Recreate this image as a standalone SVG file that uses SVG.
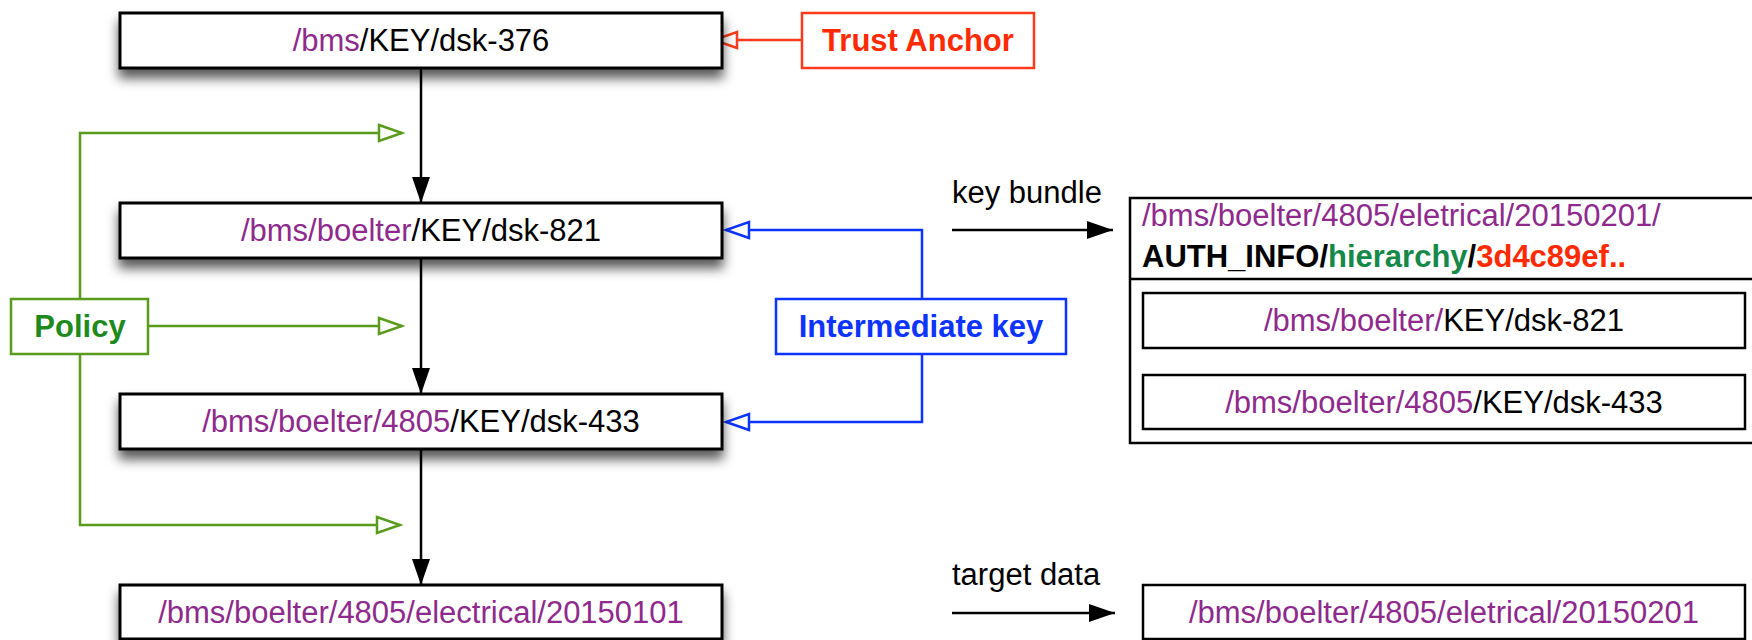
<svg xmlns="http://www.w3.org/2000/svg" width="1752" height="640" viewBox="0 0 1752 640">
  <style>
    text { font-family: "Liberation Sans", Arial, Helvetica, sans-serif; font-size: 31px; }
    .b { font-weight: bold; font-size: 31px; }
    .mid { text-anchor: middle; }
    .p { fill: #8e2a8c; }
    .k { fill: #000; }
    .box { fill: #fff; stroke: #000; stroke-width: 3; }
    .rbox { fill: #fff; stroke: #000; stroke-width: 2.5; }
    .chain { stroke: #000; stroke-width: 2.5; fill: none; }
    .pol { stroke: #5a9a1c; stroke-width: 2.5; fill: none; }
    .ik { stroke: #0d33ff; stroke-width: 2.5; fill: none; }
    .ta { stroke: #ff3a1a; stroke-width: 2.5; fill: none; }
  </style>
  <defs>
    <filter id="shadow" x="-5%" y="-30%" width="110%" height="190%">
      <feDropShadow dx="0" dy="9" stdDeviation="6" flood-color="#000" flood-opacity="0.65"/>
    </filter>
    <marker id="solid" viewBox="0 0 26 18" refX="26" refY="9" markerWidth="26" markerHeight="18" markerUnits="userSpaceOnUse" orient="auto">
      <path d="M0,0 L26,9 L0,18 Z" fill="#000"/>
    </marker>
    <marker id="openG" viewBox="-2 -2 28 22" refX="23" refY="9" markerWidth="28" markerHeight="22" markerUnits="userSpaceOnUse" orient="auto">
      <path d="M0,1 L23,9 L0,17 Z" fill="#fff" stroke="#5a9a1c" stroke-width="2.5"/>
    </marker>
    <marker id="openB" viewBox="-2 -2 28 22" refX="23" refY="9" markerWidth="28" markerHeight="22" markerUnits="userSpaceOnUse" orient="auto">
      <path d="M0,1 L23,9 L0,17 Z" fill="#fff" stroke="#0d33ff" stroke-width="2.5"/>
    </marker>
    <marker id="openR" viewBox="-2 -2 28 22" refX="23" refY="9" markerWidth="28" markerHeight="22" markerUnits="userSpaceOnUse" orient="auto">
      <path d="M0,1 L23,9 L0,17 Z" fill="#fff" stroke="#ff3a1a" stroke-width="2.5"/>
    </marker>
  </defs>

  <!-- connectors -->
  <g id="connectors">
    <!-- key chain -->
    <line class="chain" x1="421" y1="68" x2="421" y2="203" marker-end="url(#solid)"/>
    <line class="chain" x1="421" y1="258" x2="421" y2="394" marker-end="url(#solid)"/>
    <line class="chain" x1="421" y1="449" x2="421" y2="585" marker-end="url(#solid)"/>
    <!-- policy -->
    <polyline class="pol" points="80,299 80,133 402,133" marker-end="url(#openG)"/>
    <line class="pol" x1="148" y1="326" x2="402" y2="326" marker-end="url(#openG)"/>
    <polyline class="pol" points="80,354 80,525 400,525" marker-end="url(#openG)"/>
    <!-- intermediate key -->
    <polyline class="ik" points="922,299 922,230 726,230" marker-end="url(#openB)"/>
    <polyline class="ik" points="922,354 922,422 726,422" marker-end="url(#openB)"/>
    <!-- trust anchor -->
    <line class="ta" x1="802" y1="40" x2="714" y2="40" marker-end="url(#openR)"/>
    <!-- bundle / data -->
    <line class="chain" x1="952" y1="230" x2="1113" y2="230" marker-end="url(#solid)"/>
    <line class="chain" x1="952" y1="613" x2="1115" y2="613" marker-end="url(#solid)"/>
  </g>

  <!-- key chain nodes -->
  <g id="dsk-376">
    <rect class="box" x="120" y="13" width="602" height="55" filter="url(#shadow)"/>
    <text class="mid" x="421" y="51"><tspan class="p">/bms</tspan><tspan class="k">/KEY/dsk-376</tspan></text>
  </g>
  <g id="dsk-821">
    <rect class="box" x="120" y="203" width="602" height="55" filter="url(#shadow)"/>
    <text class="mid" x="421" y="241"><tspan class="p">/bms/boelter</tspan><tspan class="k">/KEY/dsk-821</tspan></text>
  </g>
  <g id="dsk-433">
    <rect class="box" x="120" y="394" width="602" height="55" filter="url(#shadow)"/>
    <text class="mid" x="421" y="432"><tspan class="p">/bms/boelter/4805</tspan><tspan class="k">/KEY/dsk-433</tspan></text>
  </g>
  <g id="data-20150101">
    <rect class="box" x="120" y="585" width="602" height="54" filter="url(#shadow)"/>
    <text class="mid p" x="421" y="623">/bms/boelter/4805/electrical/20150101</text>
  </g>

  <!-- annotations -->
  <g id="trust-anchor">
    <rect x="802" y="13" width="232" height="55" fill="#fff" stroke="#ff3a1a" stroke-width="2.5"/>
    <text class="b mid" x="918" y="51" fill="#ff2a00">Trust Anchor</text>
  </g>
  <g id="policy">
    <rect x="11" y="299" width="137" height="55" fill="#fff" stroke="#5a9a1c" stroke-width="2.5"/>
    <text class="b mid" x="80" y="337" fill="#1e8a1e">Policy</text>
  </g>
  <g id="intermediate-key">
    <rect x="776" y="299" width="290" height="55" fill="#fff" stroke="#0d33ff" stroke-width="2.5"/>
    <text class="b mid" x="921" y="337" fill="#0d33ff">Intermediate key</text>
  </g>

  <g id="label-key-bundle">
    <text x="952" y="203">key bundle</text>
  </g>
  <g id="label-target-data">
    <text x="952" y="585">target data</text>
  </g>

  <!-- key bundle packet -->
  <g id="key-bundle">
    <rect class="rbox" x="1130" y="198" width="640" height="245"/>
    <line x1="1130" y1="279" x2="1760" y2="279" stroke="#000" stroke-width="2.5"/>
    <text x="1142" y="226" class="p">/bms/boelter/4805/eletrical/20150201/</text>
    <text x="1142" y="267" class="b"><tspan fill="#000">AUTH_INFO/</tspan><tspan fill="#15894a">hierarchy</tspan><tspan fill="#000">/</tspan><tspan fill="#ff2a00">3d4c89ef..</tspan></text>
    <rect class="rbox" x="1143" y="293" width="602" height="55"/>
    <text class="mid" x="1444" y="331"><tspan class="p">/bms/boelter/</tspan><tspan class="k">KEY/dsk-821</tspan></text>
    <rect class="rbox" x="1143" y="375" width="602" height="54"/>
    <text class="mid" x="1444" y="413"><tspan class="p">/bms/boelter/4805</tspan><tspan class="k">/KEY/dsk-433</tspan></text>
  </g>

  <!-- target data packet -->
  <g id="target-data">
    <rect class="rbox" x="1143" y="585" width="602" height="54"/>
    <text class="mid p" x="1444" y="623">/bms/boelter/4805/eletrical/20150201</text>
  </g>
</svg>
